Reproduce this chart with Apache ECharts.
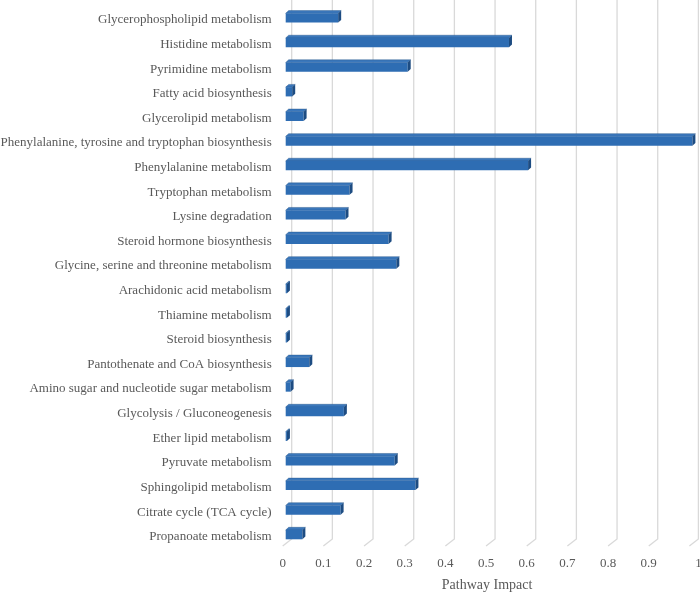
<!DOCTYPE html>
<html><head><meta charset="utf-8">
<script src="https://cdn.jsdelivr.net/npm/echarts@6/dist/echarts.min.js"></script>
<style>html,body{margin:0;padding:0;background:#fff}#c{width:700px;height:594px}</style>
</head><body><div id="c"></div>
<script>
const categories = [
  "Glycerophospholipid metabolism",
  "Histidine metabolism",
  "Pyrimidine metabolism",
  "Fatty acid biosynthesis",
  "Glycerolipid metabolism",
  "Phenylalanine, tyrosine and tryptophan biosynthesis",
  "Phenylalanine metabolism",
  "Tryptophan metabolism",
  "Lysine degradation",
  "Steroid hormone biosynthesis",
  "Glycine, serine and threonine metabolism",
  "Arachidonic acid metabolism",
  "Thiamine metabolism",
  "Steroid biosynthesis",
  "Pantothenate and CoA biosynthesis",
  "Amino sugar and nucleotide sugar metabolism",
  "Glycolysis / Gluconeogenesis",
  "Ether lipid metabolism",
  "Pyruvate metabolism",
  "Sphingolipid metabolism",
  "Citrate cycle (TCA cycle)",
  "Propanoate metabolism"
];
const impact = [
  0.129, 0.549, 0.300, 0.016, 0.044, 1.0, 0.596, 0.157,
  0.147, 0.253, 0.272, 0.003, 0.003, 0.003, 0.058, 0.012,
  0.143, 0.003, 0.268, 0.319, 0.135, 0.041
];
const xTicks = [0, 0.1, 0.2, 0.3, 0.4, 0.5, 0.6, 0.7, 0.8, 0.9, 1];

const FRONT = '#2e6db3', TOP = '#3b78bc', SIDE = '#1d4c82', GRID = '#d9d9d9', TXT = '#595959';
const FONT = '"Liberation Serif", "Times New Roman", serif';

const chart = echarts.init(document.getElementById('c'));
chart.setOption({
  animation: false,
  backgroundColor: '#fff',
  grid: { left: 291.7, right: 1.6, top: 7.7, bottom: 45, containLabel: false, outerBoundsMode: 'none' },
  xAxis: {
    type: 'value', min: 0, max: 1, interval: 0.1,
    axisLine: { show: false }, axisTick: { show: false }, splitLine: { show: false },
    axisLabel: {
      color: TXT, fontFamily: FONT, fontSize: 13, margin: 8,
      formatter: function (v) { return v >= 1 ? '{r|' + v + '}' : '{l|' + v + '}'; },
      rich: {
        l: { color: TXT, fontFamily: FONT, fontSize: 13, padding: [0, 18, 0, 0] },
        r: { color: TXT, fontFamily: FONT, fontSize: 13 }
      }
    },
    name: 'Pathway Impact', nameLocation: 'middle', nameGap: 29,
    nameTextStyle: { color: TXT, fontFamily: FONT, fontSize: 14, padding: [0, 16, 0, 0] }
  },
  yAxis: {
    type: 'category', inverse: true, data: categories,
    axisLine: { show: false }, axisTick: { show: false }, splitLine: { show: false },
    axisLabel: { color: TXT, fontFamily: FONT, fontSize: 13, margin: 20, padding: [4, 0, 0, 0] }
  },
  series: [
    {
      type: 'custom', z: 1, silent: true,
      data: xTicks.map(t => [t, 0]),
      encode: { x: 0, y: 1 },
      renderItem: function (params, api) {
        const p = api.coord([api.value(0), 0]);
        const cs = params.coordSys;
        const yTop = cs.y - 8;
        const yBack = cs.y + cs.height - 10;
        const yFront = cs.y + cs.height - 3;
        return {
          type: 'polyline',
          shape: { points: [[p[0], yTop], [p[0], yBack], [p[0] - 9, yFront]] },
          style: { stroke: GRID, lineWidth: 1.3, fill: null }
        };
      }
    },
    {
      type: 'custom', z: 2,
      data: impact.map((v, i) => [v, i]),
      encode: { x: 0, y: 1 },
      renderItem: function (params, api) {
        const v = api.value(0), idx = api.value(1);
        const p0 = api.coord([0, idx]);
        const p1 = api.coord([v, idx]);
        const cy = p0[1];
        const dx = 6, d = 3, dy = 2.7;
        const x0 = p0[0] - dx, x1 = p1[0] - dx;
        const top = cy - 6.7, bot = cy + 2.6;
        return {
          type: 'group',
          children: [
            { type: 'polygon', shape: { points: [[x0, top], [x1, top], [x1 + d, top - dy], [x0 + d, top - dy]] }, style: { fill: TOP, stroke: SIDE, lineWidth: 0.4 } },
            { type: 'rect', shape: { x: x0, y: top, width: x1 - x0, height: bot - top }, style: { fill: FRONT } },
            { type: 'polygon', shape: { points: [[x1, top], [x1 + d, top - dy], [x1 + d, bot - dy], [x1, bot]] }, style: { fill: SIDE } }
          ]
        };
      }
    }
  ]
});
</script>
</body></html>
